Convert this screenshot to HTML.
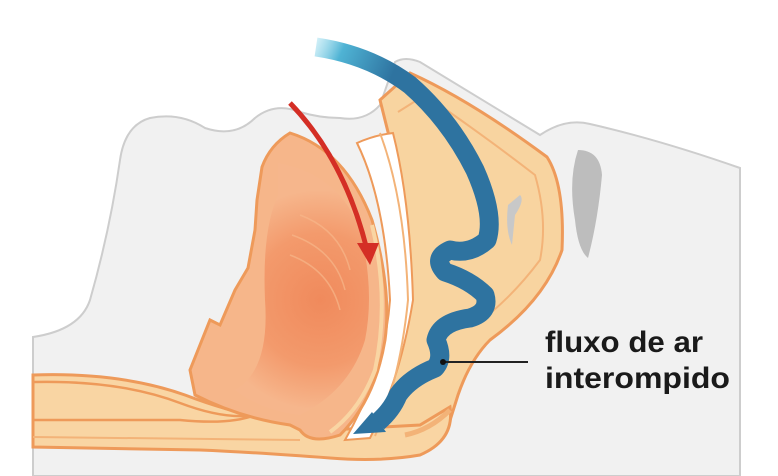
<!DOCTYPE html>
<html><head><meta charset="utf-8"><style>
html,body{margin:0;padding:0;background:#fff;width:778px;height:476px;overflow:hidden}
</style></head><body>
<svg width="778" height="476" viewBox="0 0 778 476" xmlns="http://www.w3.org/2000/svg">
<defs>
<linearGradient id="bg" x1="312" y1="45" x2="390" y2="80" gradientUnits="userSpaceOnUse">
<stop offset="0" stop-color="#7fd3ea" stop-opacity="0.3"/>
<stop offset="0.35" stop-color="#4fb3d4"/>
<stop offset="1" stop-color="#2e73a0"/>
</linearGradient>
<radialGradient id="tg" cx="320" cy="300" r="110" gradientUnits="userSpaceOnUse">
<stop offset="0" stop-color="#f08a5c"/>
<stop offset="0.6" stop-color="#f39a6c"/>
<stop offset="1" stop-color="#f6b68c"/>
</radialGradient>
</defs>
<rect width="778" height="476" fill="#fff"/>
<path d="M33 337 Q80 330 90 300 Q110 230 120 160 Q125 125 150 118 Q180 112 205 128 Q235 138 255 118 Q275 102 300 112 Q320 118 340 118 Q365 122 380 105 L395 62 Q405 56 420 62 L540 135 Q565 118 590 124 Q660 140 740 168 L740 476 L33 476 Z" fill="#f1f1f1" stroke="#cdcdcd" stroke-width="2"/>
<path d="M578 150 Q600 150 602 175 Q598 220 588 258 Q578 250 575 220 Q568 180 578 150Z" fill="#bdbdbd"/>
<path d="M380 100 L410 73 Q470 100 547 157 Q565 185 562 250 Q545 300 490 340 Q470 360 458 395 L447 430 L420 440 L360 440 L395 300 L395 160 Z" fill="#f8d4a0" stroke="#ee9a5a" stroke-width="3"/>
<path d="M398 112 L425 95 Q490 140 535 175 Q548 220 540 260 Q510 300 475 325" fill="none" stroke="#f3b378" stroke-width="2"/>
<path d="M520 195 Q525 200 515 215 L512 245 Q505 230 508 205Z" fill="#c8c8c8"/>
<path d="M33 375 Q120 372 185 395 Q230 412 255 415 L300 405 L330 430 L420 425 L450 407 Q455 440 420 455 Q380 462 330 458 Q250 452 200 450 L33 447 Z" fill="#f9d5a3" stroke="#ee9a5a" stroke-width="3"/>
<path d="M33 382 Q120 380 180 403 Q225 420 255 415 Q230 425 180 420 L33 420" fill="none" stroke="#ee9a5a" stroke-width="2.5"/>
<path d="M33 437 L300 440" stroke="#f3b378" stroke-width="2"/>
<path d="M405 435 Q430 430 450 410" fill="none" stroke="#f3b378" stroke-width="5"/>
<path d="M357 143 Q375 135 393 133 Q410 200 413 300 Q400 380 370 438 L345 440 Q385 370 390 300 Q385 200 357 143Z" fill="#fff" stroke="#ee9a5a" stroke-width="2"/>
<path d="M380 133 Q405 200 408 300 Q400 380 375 436" fill="none" stroke="#f3b378" stroke-width="2"/>
<path d="M290 133 Q345 150 372 220 Q392 290 385 340 Q375 400 340 435 Q310 445 300 430 L290 425 Q240 418 195 395 L190 370 L210 320 L220 325 L235 290 L248 268 L255 230 L257 200 L262 167 Q270 145 290 133Z" fill="#f6b68a" stroke="#ee9a5a" stroke-width="3"/>
<path d="M278 163 Q340 175 360 230 Q375 290 365 340 Q350 390 300 415 Q260 410 235 390 Q270 370 265 300 Q262 230 278 195 Z" fill="url(#tg)"/>
<path d="M372 225 Q390 300 375 370 Q360 410 330 432" fill="none" stroke="#f9d5a3" stroke-width="4"/>
<path d="M300 215 Q340 230 350 270 M292 235 Q335 250 345 290 M290 255 Q330 270 340 310" fill="none" stroke="#f6b68a" stroke-width="1.5" opacity="0.7"/>
<path d="M290 103 Q345 160 367 250" fill="none" stroke="#d42e25" stroke-width="5"/>
<polygon points="357,243 379,243 370,265" fill="#d42e25"/>
<path d="M316 47 Q370 55 410 85 Q450 120 475 170 Q495 215 487 240 Q470 255 450 250 Q432 258 445 272 Q470 280 485 295 Q490 312 470 318 Q440 322 436 340 Q444 358 435 368 Q410 378 398 395 Q392 410 378 422" fill="none" stroke="url(#bg)" stroke-width="19" stroke-linejoin="round"/>
<polygon points="353,434 372,412 386,432" fill="#2e73a0"/>
<line x1="443" y1="362" x2="528" y2="362" stroke="#222" stroke-width="2"/>
<circle cx="443" cy="362" r="3" fill="#111"/>
<text x="545" y="352" font-family="Liberation Sans, sans-serif" font-weight="bold" font-size="30" fill="#1a1a1a" textLength="158" lengthAdjust="spacingAndGlyphs">fluxo de ar</text>
<text x="545" y="388" font-family="Liberation Sans, sans-serif" font-weight="bold" font-size="30" fill="#1a1a1a" textLength="185" lengthAdjust="spacingAndGlyphs">interompido</text>
</svg>
</body></html>
